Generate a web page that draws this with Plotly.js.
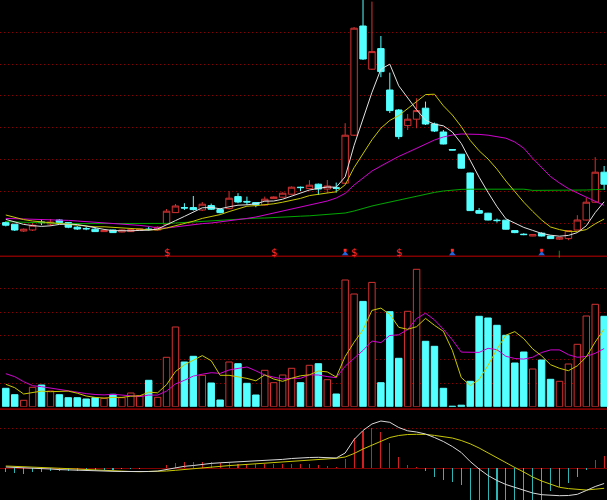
<!DOCTYPE html>
<html>
<head>
<meta charset="utf-8">
<script src="https://cdn.plot.ly/plotly-3.0.1.min.js"></script>
<style>
html,body{margin:0;padding:0;background:#000;}
#chart{width:607px;height:500px;}
</style>
</head>
<body>
<div id="chart"></div>
<script>
// ---- price candles (OHLC) ----
const opens = [8.87,8.79,8.45,8.50,8.90,8.80,9.00,8.87,8.64,8.57,8.54,8.42,8.50,8.40,8.42,8.48,8.54,8.50,8.79,9.37,9.62,9.62,9.50,9.72,9.52,9.57,10.17,9.93,9.87,9.75,10.07,10.14,10.29,10.64,10.57,10.79,10.55,10.61,10.84,13.24,18.70,16.54,17.57,15.50,14.50,13.72,14.04,14.59,13.80,13.40,12.52,12.29,11.35,9.47,9.34,8.99,8.99,8.47,8.29,8.20,8.34,8.20,8.04,8.07,8.50,9.00,9.89,11.39];
const highs = [8.93,8.80,8.58,8.84,9.04,9.05,9.05,8.90,8.70,8.67,8.64,8.50,8.52,8.52,8.54,8.57,8.67,8.68,9.55,9.80,9.84,10.20,9.90,9.82,9.59,10.45,10.34,10.17,9.90,10.17,10.18,10.38,10.68,10.67,10.99,10.82,11.00,10.87,13.84,18.65,20.40,19.92,18.20,16.37,14.55,14.30,15.09,14.92,13.87,13.50,12.53,12.30,11.37,9.60,9.36,9.07,9.00,8.48,8.34,8.28,8.39,8.22,8.13,8.50,9.24,10.12,12.14,11.70];
const lows = [8.68,8.45,8.40,8.45,8.74,8.70,8.82,8.59,8.50,8.49,8.40,8.40,8.35,8.38,8.40,8.45,8.47,8.48,8.75,9.35,9.50,9.47,9.45,9.50,9.33,9.53,9.84,9.75,9.64,9.73,10.05,10.13,10.28,10.45,10.55,10.25,10.34,10.37,10.80,13.20,17.00,16.50,16.14,14.35,13.04,13.50,13.59,13.75,13.40,12.78,12.49,11.57,9.45,9.32,8.98,8.87,8.52,8.34,8.24,8.19,8.18,8.05,8.00,7.99,8.48,8.98,9.87,10.50];
const closes = [8.74,8.50,8.54,8.74,8.87,8.90,8.87,8.64,8.55,8.56,8.42,8.47,8.37,8.50,8.52,8.55,8.53,8.64,9.44,9.70,9.60,9.52,9.79,9.54,9.37,10.09,9.90,9.90,9.77,10.04,10.15,10.34,10.64,10.62,10.74,10.55,10.70,10.59,13.24,18.59,17.05,17.42,16.42,14.47,13.17,14.04,14.47,13.80,13.45,12.80,12.50,11.59,9.47,9.34,9.00,8.97,8.54,8.37,8.27,8.27,8.20,8.07,8.12,8.47,9.00,9.89,11.39,10.79];

// ---- price moving averages ----
const ma5 = [9.03,8.90,8.78,8.72,8.68,8.71,8.78,8.80,8.77,8.70,8.61,8.53,8.47,8.46,8.46,8.48,8.49,8.55,8.74,8.97,9.18,9.38,9.61,9.63,9.56,9.66,9.74,9.76,9.81,9.94,9.95,10.04,10.19,10.36,10.50,10.58,10.65,10.64,11.16,12.73,14.03,15.38,16.54,16.79,15.71,15.10,14.51,13.99,13.79,13.71,13.40,12.83,11.96,11.14,10.38,9.67,9.06,8.84,8.63,8.48,8.33,8.24,8.19,8.23,8.37,8.71,9.37,9.91];
const ma10 = [9.25,9.12,9.02,8.95,8.90,8.85,8.82,8.78,8.74,8.69,8.66,8.66,8.64,8.62,8.58,8.55,8.51,8.51,8.60,8.71,8.83,8.94,9.08,9.18,9.27,9.42,9.56,9.69,9.72,9.75,9.81,9.89,9.97,10.08,10.22,10.27,10.35,10.41,10.76,11.62,12.31,13.01,13.59,13.98,14.22,14.57,14.95,15.27,15.29,14.71,14.25,13.67,12.98,12.46,12.05,11.54,10.95,10.40,9.89,9.43,9.00,8.65,8.52,8.43,8.43,8.52,8.81,9.05];
const ma20 = [9.08,9.07,9.05,9.04,9.03,9.01,9.00,8.98,8.95,8.92,8.89,8.86,8.84,8.80,8.77,8.73,8.68,8.60,8.60,8.66,8.73,8.78,8.82,8.85,8.90,8.95,9.02,9.08,9.15,9.25,9.33,9.43,9.53,9.63,9.73,9.83,9.95,10.10,10.33,10.75,11.10,11.45,11.70,11.95,12.18,12.38,12.58,12.80,13.00,13.15,13.25,13.30,13.30,13.28,13.24,13.18,13.09,12.90,12.59,12.08,11.60,11.17,10.85,10.57,10.35,10.13,9.93,9.73];
const ma60 = [8.92,8.90,8.89,8.87,8.85,8.84,8.83,8.82,8.82,8.82,8.82,8.82,8.82,8.82,8.82,8.82,8.80,8.80,8.83,8.85,8.88,8.90,8.94,8.97,9.00,9.03,9.05,9.07,9.09,9.10,9.13,9.15,9.17,9.19,9.21,9.24,9.27,9.30,9.35,9.45,9.58,9.70,9.80,9.90,10.00,10.08,10.18,10.28,10.38,10.45,10.50,10.53,10.54,10.54,10.54,10.54,10.54,10.54,10.54,10.48,10.48,10.48,10.48,10.48,10.48,10.50,10.52,10.54];

// ---- volume and its averages ----
const volume = [18.4,12,6.4,19.4,21.7,15.7,12,9,9,7.7,9,8.4,12.4,9,13.7,11,26.4,9.4,49.4,79.7,44.7,50.4,31.4,23.7,6.7,44.7,43,23.4,11.7,36.4,24,31.7,38.4,24,41.4,43,27,12.7,126.7,112.7,105.3,124.3,24,95,48.4,95.4,137.4,65.4,60.4,18.4,0.5,1.5,25.4,90.4,88.7,81.4,71.4,43.7,54.7,37.7,46.7,27.4,25.4,42.7,62.4,90.7,102.4,90.4];
const volMa5 = [22.4,19,12.7,14,15.6,15.0,15.0,15.6,13.5,10.7,9.3,8.6,9.3,9.3,10.5,10.9,14.5,13.9,22.0,35.2,41.9,46.7,51.1,46.0,31.4,31.4,29.9,28.3,25.9,31.8,27.7,25.4,28.4,30.9,31.9,35.7,34.8,29.6,50.2,64.4,76.9,96.3,98.6,92.3,79.4,77.4,80.0,88.3,81.4,75.4,56.4,29.2,21.2,27.2,41.3,57.5,71.5,75.1,68.0,57.8,50.8,42.0,38.4,36.0,40.9,49.7,64.7,77.7];
const volMa10 = [33,30,25,21,20,18.5,17,15.5,14.5,13.1,12.2,11.8,12.4,11.4,10.6,10.1,11.6,11.6,15.6,22.8,26.4,30.6,32.5,34.0,33.3,36.7,38.3,39.7,35.9,31.6,29.5,27.7,28.4,28.4,31.9,31.7,30.1,29.0,40.5,48.2,56.3,65.6,64.1,71.2,71.9,77.2,88.2,93.5,86.8,77.4,66.9,54.6,54.8,54.3,58.4,57.0,50.4,48.2,47.6,49.5,54.2,56.8,56.8,52.0,49.4,50.3,53.4,58.1];

// ---- MACD ----
const dif = [0.013,0.010,0.006,0.000,-0.004,-0.007,-0.013,-0.017,-0.020,-0.023,-0.026,-0.028,-0.030,-0.032,-0.034,-0.034,-0.032,-0.028,-0.010,0.004,0.020,0.028,0.041,0.049,0.055,0.060,0.063,0.065,0.069,0.075,0.081,0.089,0.098,0.106,0.108,0.110,0.110,0.103,0.153,0.288,0.378,0.443,0.473,0.460,0.408,0.375,0.363,0.343,0.308,0.268,0.218,0.158,0.068,-0.007,-0.072,-0.122,-0.162,-0.192,-0.222,-0.247,-0.264,-0.272,-0.274,-0.272,-0.260,-0.222,-0.182,-0.152];
const dea = [0.023,0.020,0.016,0.012,0.008,0.005,0.001,-0.004,-0.007,-0.012,-0.017,-0.021,-0.025,-0.029,-0.032,-0.034,-0.033,-0.031,-0.027,-0.020,-0.011,-0.003,0.007,0.013,0.020,0.027,0.033,0.039,0.046,0.051,0.056,0.062,0.068,0.080,0.087,0.093,0.097,0.100,0.113,0.148,0.193,0.230,0.273,0.308,0.328,0.338,0.340,0.339,0.329,0.316,0.303,0.278,0.245,0.203,0.153,0.103,0.058,0.008,-0.037,-0.087,-0.127,-0.162,-0.190,-0.203,-0.213,-0.217,-0.209,-0.200];
const macdHist = [-0.040,-0.050,-0.057,-0.040,-0.034,-0.025,-0.028,-0.026,-0.026,-0.022,-0.020,-0.016,-0.012,-0.010,-0.008,-0.004,0.002,0.006,0.030,0.053,0.066,0.063,0.065,0.060,0.050,0.053,0.046,0.043,0.040,0.040,0.040,0.040,0.040,0.040,0.040,0.033,0.023,0.013,0.090,0.303,0.373,0.400,0.363,0.253,0.113,0.036,0.016,-0.027,-0.084,-0.117,-0.137,-0.167,-0.360,-0.420,-0.450,-0.450,-0.440,-0.400,-0.370,-0.340,-0.320,-0.227,-0.187,-0.144,-0.084,-0.017,0.083,0.123];

// ---- signal marks under the price panel (candle indices) ----
const sellSignals = [18, 30, 39, 44];
const buySignals = [38, 50, 60];
const tickMarks = [62];

// ---- styling ----
const RED = '#d23232', CYAN = '#54ffff', GRID = '#8a0000';
const PRICE_RANGE = [7.215, 20];
const idx = closes.map((_, i) => i);
const up = closes.map((c, i) => c >= opens[i]);
// vertical slot for the signal markers, just above the bottom edge of the price panel
const markBase = PRICE_RANGE[0] + 0.09;
const markHead = PRICE_RANGE[0] + 0.27;

const traces = [
  {type:'candlestick', x: idx, open: opens, high: highs, low: lows, close: closes,
   xaxis:'x', yaxis:'y', whiskerwidth:0,
   increasing:{line:{color:RED, width:1}, fillcolor:'#000000'},
   decreasing:{line:{color:CYAN, width:1}, fillcolor:CYAN},
   hoverinfo:'skip'},
  {type:'scatter', mode:'lines', x: idx, y: ma60, xaxis:'x', yaxis:'y', line:{color:'#00a800', width:1}, hoverinfo:'skip'},
  {type:'scatter', mode:'lines', x: idx, y: ma20, xaxis:'x', yaxis:'y', line:{color:'#d000d0', width:1}, hoverinfo:'skip'},
  {type:'scatter', mode:'lines', x: idx, y: ma10, xaxis:'x', yaxis:'y', line:{color:'#c8c800', width:1}, hoverinfo:'skip'},
  {type:'scatter', mode:'lines', x: idx, y: ma5, xaxis:'x', yaxis:'y', line:{color:'#e0e0e0', width:1}, hoverinfo:'skip'},
  // buy-signal marks: blue triangle with red head
  {type:'scatter', mode:'markers', x: buySignals, y: buySignals.map(() => markBase), xaxis:'x', yaxis:'y',
   marker:{symbol:'triangle-up', size:6, color:'#2266dd', line:{width:0}}, hoverinfo:'skip', cliponaxis:false},
  {type:'scatter', mode:'markers', x: buySignals, y: buySignals.map(() => markHead), xaxis:'x', yaxis:'y',
   marker:{symbol:'square', size:3, color:'#ff2a2a', line:{width:0}}, hoverinfo:'skip', cliponaxis:false},

  {type:'bar', x: idx, y: volume, xaxis:'x2', yaxis:'y2', width:0.72,
   marker:{color: up.map(u => u ? '#000000' : CYAN), line:{color: up.map(u => u ? RED : CYAN), width:1}},
   hoverinfo:'skip'},
  {type:'scatter', mode:'lines', x: idx, y: volMa10, xaxis:'x2', yaxis:'y2', line:{color:'#d000d0', width:1}, hoverinfo:'skip'},
  {type:'scatter', mode:'lines', x: idx, y: volMa5, xaxis:'x2', yaxis:'y2', line:{color:'#c8c800', width:1}, hoverinfo:'skip'},

  {type:'bar', x: idx, y: macdHist, xaxis:'x3', yaxis:'y3', width:0.12,
   marker:{color: macdHist.map(v => v >= 0 ? '#d02020' : '#2fb4b4'), line:{width:0}}, hoverinfo:'skip'},
  {type:'scatter', mode:'lines', x: idx, y: dea, xaxis:'x3', yaxis:'y3', line:{color:'#c8c800', width:1}, hoverinfo:'skip'},
  {type:'scatter', mode:'lines', x: idx, y: dif, xaxis:'x3', yaxis:'y3', line:{color:'#d8d8d8', width:1}, hoverinfo:'skip'}
];

const xr = [-0.65, 67.32];
const xbase = {range: xr, showgrid:false, zeroline:false, showticklabels:false, ticks:'', showline:false, fixedrange:true};

const annotations = [];
sellSignals.forEach(i => annotations.push({xref:'x', yref:'paper', x:i, y:0.496, text:'$', showarrow:false,
  font:{family:'DejaVu Sans', size:10, color:'#ff2a2a'}, xanchor:'center', yanchor:'middle', borderpad:0}));
tickMarks.forEach(i => annotations.push({xref:'x', yref:'paper', x:i, y:0.4915, text:'|', showarrow:false,
  font:{family:'DejaVu Sans', size:7, color:'#a0a000'}, xanchor:'center', yanchor:'middle', borderpad:0}));

const GRIDDASH = '1px,3px';
const layout = {
  width:607, height:500,
  margin:{l:0, r:0, t:0, b:0, pad:0},
  paper_bgcolor:'#000000', plot_bgcolor:'#000000',
  showlegend:false,
  bargap:0,
  boxgap:0.15, boxgroupgap:0.15,
  xaxis: Object.assign({}, xbase, {anchor:'y', rangeslider:{visible:false}}),
  xaxis2: Object.assign({}, xbase, {anchor:'y2', matches:'x'}),
  xaxis3: Object.assign({}, xbase, {anchor:'y3', matches:'x'}),
  yaxis: {domain:[0.4886, 1], range:PRICE_RANGE, showticklabels:false, ticks:'', zeroline:false,
          showgrid:true, gridcolor:GRID, griddash:GRIDDASH, gridwidth:1, tickmode:'linear', tick0:8.835, dtick:1.592, fixedrange:true},
  yaxis2: {domain:[0.1866, 0.484], range:[0, 148.7], showticklabels:false, ticks:'', zeroline:false,
          showgrid:true, gridcolor:GRID, griddash:GRIDDASH, gridwidth:1, tickmode:'array', tickvals:[23.6, 47.3, 71, 94.6, 118.3], fixedrange:true},
  yaxis3: {domain:[0, 0.18], range:[-0.317, 0.583], showticklabels:false, ticks:'',
          zeroline:true, zerolinecolor:'#800000', zerolinewidth:1.5,
          showgrid:true, gridcolor:GRID, griddash:GRIDDASH, gridwidth:1, tickmode:'array', tickvals:[0.396], fixedrange:true},
  shapes: [
    {type:'line', xref:'paper', yref:'paper', x0:0, x1:1, y0:0.4873, y1:0.4873, line:{color:'#800000', width:1.5}},
    {type:'line', xref:'paper', yref:'paper', x0:0, x1:1, y0:0.1818, y1:0.1818, line:{color:'#800000', width:1.8}}
  ],
  annotations: annotations
};

Plotly.newPlot('chart', traces, layout, {staticPlot:true, displayModeBar:false});
</script>
</body>
</html>
